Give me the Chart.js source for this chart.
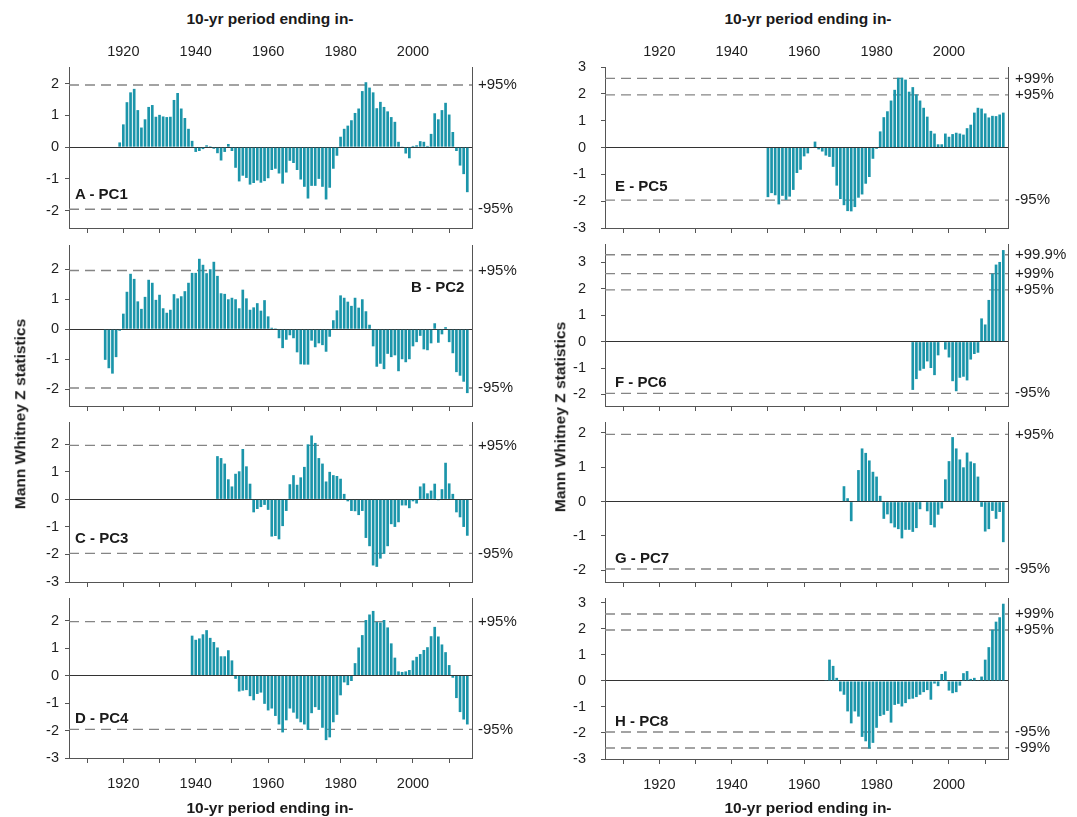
<!DOCTYPE html>
<html>
<head>
<meta charset="utf-8">
<script src="https://cdn.jsdelivr.net/npm/chart.js@4.4.1/dist/chart.umd.min.js"></script>
<style>
  html, body { margin: 0; padding: 0; background: #fff; }
  body { position: relative; width: 1077px; height: 817px; overflow: hidden;
         font-family: "Liberation Sans", Arial, Helvetica, sans-serif; color: #1a1a1a; }
  .pane { position: absolute; }
  .txt { position: absolute; white-space: nowrap; line-height: 1; font-weight: bold; }
  .ctr { transform: translate(-50%, -50%); }
  .vert { transform: translate(-50%, -50%) rotate(-90deg); }
  .plab { transform: translateY(-50%); font-size: 15px; }
</style>
</head>
<body>
<script>
// ---------------- data ----------------
const years = [1915,1916,1917,1918,1919,1920,1921,1922,1923,1924,1925,1926,1927,1928,1929,
  1930,1931,1932,1933,1934,1935,1936,1937,1938,1939,1940,1941,1942,1943,1944,1945,1946,1947,
  1948,1949,1950,1951,1952,1953,1954,1955,1956,1957,1958,1959,1960,1961,1962,1963,1964,1965,
  1966,1967,1968,1969,1970,1971,1972,1973,1974,1975,1976,1977,1978,1979,1980,1981,1982,1983,
  1984,1985,1986,1987,1988,1989,1990,1991,1992,1993,1994,1995,1996,1997,1998,1999,2000,2001,
  2002,2003,2004,2005,2006,2007,2008,2009,2010,2011,2012,2013,2014,2015];

const xTickYears = [1910,1920,1930,1940,1950,1960,1970,1980,1990,2000,2010];
const xLabelYears = [1920,1940,1960,1980,2000];

const pc1Start = 1919;
const pc1 = [0.15,0.72,1.42,1.73,1.84,1.17,0.62,0.88,1.27,1.33,
  0.96,1.02,0.97,0.95,0.96,1.49,1.71,1.22,0.92,0.58,
  0.20,-0.15,-0.12,-0.06,0.06,0.03,-0.05,-0.19,-0.42,-0.15,
  0.10,-0.12,-0.65,-1.08,-0.90,-0.97,-1.18,-1.13,-1.05,-1.12,
  -1.07,-0.98,-0.72,-0.68,-0.83,-1.15,-0.80,-0.43,-0.50,-0.72,
  -1.02,-1.25,-1.62,-1.22,-1.22,-1.00,-1.25,-1.65,-1.28,-0.68,
  -0.27,0.33,0.58,0.68,0.85,1.08,1.22,1.77,2.05,1.88,
  1.73,1.23,1.43,1.27,1.13,0.95,0.80,0.17,0.01,-0.20,
  -0.35,0.04,0.06,0.19,0.17,0.04,0.42,1.07,0.88,1.17,
  1.40,1.03,0.48,-0.12,-0.58,-0.85,-1.42];

const pc2Start = 1915;
const pc2 = [-1.02,-1.30,-1.48,-0.93,-0.05,0.52,1.25,1.85,1.68,0.93,
  0.68,1.08,1.65,1.55,0.98,1.15,0.70,0.55,0.65,1.17,
  1.03,1.10,1.27,1.55,1.88,1.88,2.35,2.15,1.87,2.00,
  2.25,1.78,1.20,1.18,1.00,1.05,1.00,0.70,1.32,1.03,
  0.65,0.73,0.87,0.62,0.97,0.43,0.05,0.03,-0.30,-0.63,
  -0.35,-0.20,-0.30,-0.77,-1.17,-1.18,-1.18,-0.38,-0.60,-0.47,
  -0.53,-0.75,-0.25,0.30,0.63,1.13,1.05,0.92,0.78,1.05,
  0.72,1.00,0.60,0.15,-0.57,-1.25,-1.15,-1.33,-0.82,-0.93,
  -0.87,-1.40,-1.00,-1.10,-1.00,-0.57,-0.43,-0.22,-0.67,-0.70,
  -0.47,0.20,-0.45,-0.17,0.07,-0.43,-0.80,-1.43,-1.55,-1.75,
  -2.13];

const pc3Start = 1946;
const pc3 = [1.57,1.50,1.30,0.73,0.47,0.93,1.02,1.83,1.20,0.57,
  -0.47,-0.35,-0.28,-0.20,-0.38,-1.35,-1.33,-1.45,-0.97,-0.42,
  0.55,0.88,0.53,0.80,1.18,2.00,2.32,2.05,1.50,1.30,
  0.65,1.00,0.88,0.85,0.75,0.20,-0.07,-0.42,-0.43,-0.57,
  -0.42,-1.40,-1.70,-2.40,-2.45,-2.15,-1.98,-1.70,-0.90,-1.00,
  -0.83,-0.22,-0.22,-0.32,-0.07,-0.15,0.47,0.58,0.22,0.32,
  0.57,-0.03,0.37,1.33,0.58,0.20,-0.47,-0.65,-1.00,-1.32];

const pc4Start = 1939;
const pc4 = [1.45,1.30,1.35,1.50,1.65,1.37,1.22,1.02,0.70,0.70,
  0.92,0.55,-0.12,-0.58,-0.55,-0.53,-0.75,-0.90,-0.67,-0.62,
  -1.03,-1.27,-1.20,-1.47,-1.78,-2.07,-1.63,-1.20,-1.35,-1.57,
  -1.70,-1.78,-1.98,-1.37,-1.15,-1.25,-1.90,-2.35,-2.25,-1.70,
  -1.43,-0.72,-0.25,-0.35,-0.20,0.45,1.02,1.47,2.02,2.22,
  2.35,1.95,1.93,2.02,1.75,1.17,0.65,0.15,0.13,0.15,
  0.20,0.55,0.68,0.78,0.93,1.03,1.43,1.77,1.42,1.13,
  0.85,0.38,-0.08,-0.82,-1.33,-1.60,-1.78];

const pc5Start = 1950;
const pc5 = [-1.85,-1.70,-1.78,-2.12,-1.80,-1.95,-1.83,-1.58,-0.95,-0.83,
  -0.33,-0.22,-0.02,0.22,-0.07,-0.15,-0.30,-0.35,-0.72,-1.42,
  -1.92,-2.15,-2.37,-2.38,-2.22,-1.87,-1.75,-1.35,-1.10,-0.42,
  -0.05,0.60,1.13,1.35,1.75,2.15,2.60,2.60,2.53,2.08,
  2.25,1.98,1.75,1.48,1.15,0.62,0.52,0.12,0.12,0.52,
  0.40,0.50,0.55,0.52,0.48,0.72,0.85,1.30,1.48,1.45,
  1.27,1.12,1.18,1.17,1.23,1.30];

const pc6Start = 1990;
const pc6 = [-1.83,-1.42,-1.10,-1.03,-0.75,-1.00,-1.27,-0.52,0,-0.30,
  -0.60,-1.50,-1.88,-1.37,-1.33,-1.47,-0.68,-0.47,-0.42,0.88,
  0.65,1.58,2.58,2.92,3.02,3.47];

const pc7Start = 1971;
const pc7 = [0.45,0.10,-0.57,0.02,0.92,1.55,1.42,1.20,0.87,0.73,
  0.17,-0.50,-0.37,-0.63,-0.75,-0.80,-1.07,-0.82,-0.82,-0.88,
  -0.77,-0.22,0,-0.28,-0.68,-0.75,-0.38,-0.20,0.65,1.18,
  1.88,1.55,1.23,1.00,1.43,1.17,1.12,0.73,-0.15,-0.87,
  -0.80,-0.27,-0.50,-0.30,-1.18];

const pc8Start = 1966;
const pc8 = [0.03,0.82,0.58,0.12,-0.40,-0.53,-1.17,-1.63,-1.17,-1.37,
  -2.15,-2.32,-2.60,-2.38,-1.80,-1.35,-1.30,-1.15,-1.60,-0.92,
  -0.88,-0.98,-0.85,-0.70,-0.68,-0.62,-0.53,-0.43,-0.35,-0.72,
  -0.10,-0.20,0.27,0.37,-0.37,-0.47,-0.43,-0.18,0.30,0.38,
  0.08,0.12,0.03,0.17,0.82,1.30,1.97,2.28,2.45,2.97];

// significance thresholds (Z) and their labels
const thr95 = [1.96, -1.96];
const lab95 = ['+95%', '-95%'];
const thrE = [2.576, 1.96, -1.96];
const labE = ['+99%', '+95%', '-95%'];
const thrF = [3.29, 2.576, 1.96, -1.96];
const labF = ['+99.9%', '+99%', '+95%', '-95%'];
const thrH = [2.576, 1.96, -1.96, -2.576];
const labH = ['+99%', '+95%', '-95%', '-99%'];

// y tick values per panel
const yTicks2 = [-2, -1, 0, 1, 2];
const yTicks3to2 = [-3, -2, -1, 0, 1, 2];
const yTicks3 = [-3, -2, -1, 0, 1, 2, 3];
const yTicks2to3 = [-2, -1, 0, 1, 2, 3];

const panelNames = ['A - PC1','B - PC2','C - PC3','D - PC4','E - PC5','F - PC6','G - PC7','H - PC8'];
const xAxisTitle = '10-yr period ending in-';
const yAxisTitle = 'Mann Whitney Z statistics';

// ---------------- layout / styling ----------------
const X_MIN = 1905.0, X_MAX = 2016.3;
const AXIS = '#555555';
const BAR = '#1b95aa';
const DASH = '#858585';
const TXT = '#1e1e1e';

const panels = [
  {name: panelNames[0], vals: pc1, start: pc1Start, yMin: -2.55, yMax: 2.53, yT: yTicks2, thr: thr95, lab: lab95,
   rect: {l: 69, t: 67, w: 403, h: 161}, topLabels: true, bottomLabels: false, col: 0, nl: {x: 75, y: 193}},
  {name: panelNames[1], vals: pc2, start: pc2Start, yMin: -2.56, yMax: 2.81, yT: yTicks2, thr: thr95, lab: lab95,
   rect: {l: 69, t: 245, w: 403, h: 161}, topLabels: false, bottomLabels: false, col: 0, nl: {x: 411, y: 286}},
  {name: panelNames[2], vals: pc3, start: pc3Start, yMin: -3, yMax: 2.81, yT: yTicks3to2, thr: thr95, lab: lab95,
   rect: {l: 69, t: 422, w: 403, h: 160}, topLabels: false, bottomLabels: false, col: 0, nl: {x: 75, y: 537}},
  {name: panelNames[3], vals: pc4, start: pc4Start, yMin: -3, yMax: 2.82, yT: yTicks3to2, thr: thr95, lab: lab95,
   rect: {l: 69, t: 598, w: 403, h: 160}, topLabels: false, bottomLabels: true, col: 0, nl: {x: 75, y: 717}},
  {name: panelNames[4], vals: pc5, start: pc5Start, yMin: -3, yMax: 3, yT: yTicks3, thr: thrE, lab: labE,
   rect: {l: 605, t: 67, w: 403, h: 161}, topLabels: true, bottomLabels: false, col: 1, nl: {x: 615, y: 185}},
  {name: panelNames[5], vals: pc6, start: pc6Start, yMin: -2.44, yMax: 3.7, yT: yTicks2to3, thr: thrF, lab: labF,
   rect: {l: 605, t: 244, w: 403, h: 162}, topLabels: false, bottomLabels: false, col: 1, nl: {x: 615, y: 381}},
  {name: panelNames[6], vals: pc7, start: pc7Start, yMin: -2.34, yMax: 2.32, yT: yTicks2, thr: thr95, lab: lab95,
   rect: {l: 605, t: 422, w: 403, h: 160}, topLabels: false, bottomLabels: false, col: 1, nl: {x: 615, y: 557}},
  {name: panelNames[7], vals: pc8, start: pc8Start, yMin: -3, yMax: 3.19, yT: yTicks3, thr: thrH, lab: labH,
   rect: {l: 605, t: 598, w: 403, h: 161}, topLabels: false, bottomLabels: true, col: 1, nl: {x: 615, y: 720}}
];

Chart.defaults.font.family = '"Liberation Sans", Arial, Helvetica, sans-serif';
Chart.defaults.color = TXT;

function addText(txt, cls, x, y, size) {
  const d = document.createElement('div');
  d.className = 'txt ' + cls;
  d.textContent = txt;
  d.style.left = x + 'px';
  d.style.top = y + 'px';
  if (size) d.style.fontSize = size + 'px';
  document.body.appendChild(d);
}

function makePanel(p) {
  const WL = 45, WR = 68;
  const HT = p.topLabels ? 36 : 12;
  const HB = p.bottomLabels ? 46 : 12;
  const W = p.rect.w + WL + WR, H = p.rect.h + HT + HB;

  const div = document.createElement('div');
  div.className = 'pane';
  div.style.left = (p.rect.l - WL) + 'px';
  div.style.top = (p.rect.t - HT) + 'px';
  div.style.width = W + 'px';
  div.style.height = H + 'px';
  const cv = document.createElement('canvas');
  cv.width = W; cv.height = H;
  cv.style.width = W + 'px'; cv.style.height = H + 'px';
  div.appendChild(cv);
  document.body.appendChild(div);

  const i0 = years.indexOf(p.start);
  const bars = p.vals.map((v, i) => ({x: years[i0 + i], y: v}));

  const datasets = [{
    type: 'bar', data: bars, backgroundColor: BAR, borderWidth: 0,
    barPercentage: 0.74, categoryPercentage: 1.0, order: 0,
    xAxisID: 'x', yAxisID: 'y'
  }];
  p.thr.forEach(t => datasets.push({
    type: 'line', data: [{x: X_MIN, y: t}, {x: X_MAX, y: t}],
    borderColor: DASH, borderWidth: 1.4, borderDash: [10, 6], pointRadius: 0,
    fill: false, order: 1, xAxisID: 'x', yAxisID: 'y'
  }));

  const fixW = w => s => { s.width = w; s.paddingTop = 0; s.paddingBottom = 0; };
  const fixH = h => s => { s.height = h; s.paddingLeft = 0; s.paddingRight = 0; };

  const scales = {
    x: {
      type: 'linear', position: 'bottom', min: X_MIN, max: X_MAX, offset: false,
      afterBuildTicks: s => { s.ticks = xTickYears.map(v => ({value: v})); },
      afterFit: fixH(HB),
      grid: {drawOnChartArea: false, drawTicks: true, tickLength: 5, tickColor: AXIS, offset: false},
      border: {display: true, color: AXIS, width: 1},
      ticks: {autoSkip: false, maxRotation: 0, padding: 12, font: {size: 14.5}, color: TXT,
              callback: v => (p.bottomLabels && xLabelYears.includes(v)) ? String(v) : ''}
    },
    y: {
      type: 'linear', position: 'left', min: p.yMin, max: p.yMax,
      afterBuildTicks: s => { s.ticks = p.yT.map(v => ({value: v})); },
      afterFit: fixW(WL),
      grid: {drawOnChartArea: true, drawTicks: true, tickLength: 4, tickColor: AXIS, lineWidth: 1,
             color: c => (c.tick && c.tick.value === 0) ? '#333333' : 'rgba(0,0,0,0)'},
      border: {display: true, color: AXIS, width: 1},
      ticks: {autoSkip: false, padding: p.col === 0 ? 6 : 15, font: {size: 14.5}, color: TXT,
              callback: v => String(v)}
    },
    y2: {
      type: 'linear', position: 'right', min: p.yMin, max: p.yMax,
      afterBuildTicks: s => { s.ticks = p.thr.map(v => ({value: v})); },
      afterFit: fixW(WR),
      grid: {display: false, drawTicks: false, drawOnChartArea: false},
      border: {display: true, color: AXIS, width: 1},
      ticks: {autoSkip: false, padding: p.col === 0 ? 6 : 7, font: {size: 15}, color: TXT,
              callback: v => p.lab[p.thr.indexOf(v)]}
    }
  };
  if (p.topLabels) {
    scales.x2 = {
      type: 'linear', position: 'top', min: X_MIN, max: X_MAX, offset: false,
      afterBuildTicks: s => { s.ticks = xLabelYears.map(v => ({value: v})); },
      afterFit: fixH(HT),
      grid: {display: false, drawTicks: false, drawOnChartArea: false},
      border: {display: false},
      ticks: {autoSkip: false, maxRotation: 0, padding: 6, font: {size: 14.5}, color: TXT,
              callback: v => String(v)}
    };
  }

  new Chart(cv, {
    type: 'bar',
    data: {datasets},
    options: {
      responsive: false, animation: false, devicePixelRatio: 1,
      layout: {padding: {left: 0, right: 0, top: p.topLabels ? 0 : HT, bottom: 0}},
      plugins: {legend: {display: false}, tooltip: {enabled: false}, title: {display: false}},
      scales
    }
  });

  addText(p.name, 'plab', p.nl.x, p.nl.y);
}

panels.forEach(makePanel);

// axis titles
addText(xAxisTitle, 'ctr', 270, 19, 15.5);
addText(xAxisTitle, 'ctr', 808, 19, 15.5);
addText(xAxisTitle, 'ctr', 270, 808, 15.5);
addText(xAxisTitle, 'ctr', 808, 808, 15.5);
addText(yAxisTitle, 'vert', 20, 414, 15.5);
addText(yAxisTitle, 'vert', 560, 417, 15.5);
</script>
</body>
</html>
